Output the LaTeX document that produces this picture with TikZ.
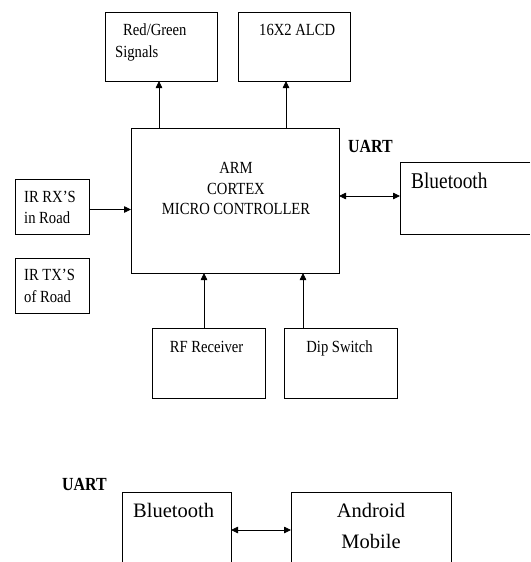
\documentclass[tikz,border=0pt]{standalone}
\usepackage{fontspec}
\setmainfont{Liberation Serif}
\usetikzlibrary{arrows.meta,calc}
\newcommand{\hsqz}[1]{\scalebox{0.86}[1]{#1}}
\begin{document}
\begin{tikzpicture}[x=1pt,y=-1pt,
  box/.style={draw, line width=0.8pt, inner sep=0pt, outer sep=0pt},
  openbox/.style={draw=none, inner sep=0pt, outer sep=0pt},
  edge/.style={line width=0.8pt},
  txt/.style={inner sep=0pt, font=\fontsize{17}{20}\selectfont},
  bigtxt/.style={inner sep=0pt, font=\fontsize{20.5}{24}\selectfont},
  boldtxt/.style={inner sep=0pt, font=\fontsize{18.5}{22}\selectfont\bfseries},
  arr/.style={line width=0.8pt, -{Triangle[length=7pt,width=6.5pt]}},
  darr/.style={line width=0.8pt, {Triangle[length=7pt,width=6.5pt]}-{Triangle[length=7pt,width=6.5pt]}}
]
\useasboundingbox (0,0) rectangle (530,562);

% boxes
\node[box, minimum width=112pt, minimum height=69pt] (rg) at (161,46.5) {};
\node[box, minimum width=112pt, minimum height=69pt] (lcd) at (294,46.5) {};
\node[box, minimum width=208pt, minimum height=145pt] (arm) at (235,200.5) {};
\node[openbox, minimum width=130pt, minimum height=72pt] (bt1) at (465,198) {};
\draw[edge] (bt1.north east) -- (bt1.north west) -- (bt1.south west) -- (bt1.south east);
\node[box, minimum width=74pt, minimum height=55pt] (irrx) at (52,206.5) {};
\node[box, minimum width=74pt, minimum height=55pt] (irtx) at (52,285.5) {};
\node[box, minimum width=113pt, minimum height=70pt] (rf) at (208.5,363) {};
\node[box, minimum width=113pt, minimum height=70pt] (dip) at (340.5,363) {};
\node[openbox, minimum width=109pt, minimum height=70pt] (bt2) at (176.5,527) {};
\draw[edge] (bt2.south west) -- (bt2.north west) -- (bt2.north east) -- (bt2.south east);
\node[openbox, minimum width=160pt, minimum height=70pt] (andr) at (371,527) {};
\draw[edge] (andr.south west) -- (andr.north west) -- (andr.north east) -- (andr.south east);

% texts
\node[txt, anchor=base west] (t-rg1) at (123,35) {\hsqz{Red/Green}};
\node[txt, anchor=base west] (t-rg2) at (115,57) {\hsqz{Signals}};
\node[txt, anchor=base west] (t-lcd) at (259,35) {\hsqz{16X2 ALCD}};
\node[txt, anchor=base] (t-arm1) at (236,173) {\hsqz{ARM}};
\node[txt, anchor=base] (t-arm2) at (236,194) {\hsqz{CORTEX}};
\node[txt, anchor=base] (t-arm3) at (236,214) {\hsqz{MICRO CONTROLLER}};
\node[boldtxt, anchor=base west] (t-uart1) at (348,152) {\hsqz{UART}};
\node[bigtxt, anchor=base west, font=\fontsize{22.5}{26}\selectfont] (t-bt1) at (411,188) {\hsqz{Bluetooth}};
\node[txt, anchor=base west] (t-rx1) at (24,202) {\hsqz{IR RX’S}};
\node[txt, anchor=base west] (t-rx2) at (24,223) {\hsqz{in Road}};
\node[txt, anchor=base west] (t-tx1) at (24,280) {\hsqz{IR TX’S}};
\node[txt, anchor=base west] (t-tx2) at (24,302) {\hsqz{of Road}};
\node[txt, anchor=base] (t-rf) at (206.5,352) {\hsqz{RF Receiver}};
\node[txt, anchor=base] (t-dip) at (339.5,352) {\hsqz{Dip Switch}};
\node[boldtxt, anchor=base west] (t-uart2) at (62,490) {\hsqz{UART}};
\node[bigtxt, anchor=base west] (t-bt2) at (133,517) {Bluetooth};
\node[bigtxt, anchor=base] (t-and1) at (371,517) {Android};
\node[bigtxt, anchor=base] (t-and2) at (371,548) {Mobile};

% connectors
\coordinate (c-rg) at ([xshift=-2pt]rg.south);
\coordinate (c-lcd) at ([xshift=-8pt]lcd.south);
\draw[arr] (c-rg |- arm.north) -- (c-rg);
\draw[arr] (c-lcd |- arm.north) -- (c-lcd);
\coordinate (c-rf) at ([xshift=-4.5pt]rf.north);
\coordinate (c-dip) at ([xshift=-37.5pt]dip.north);
\draw[arr] (c-rf) -- (c-rf |- arm.south);
\draw[arr] (c-dip) -- (c-dip |- arm.south);
\coordinate (c-rx) at ([yshift=-3pt]irrx.east);
\draw[arr] (c-rx) -- (c-rx -| arm.west);
\coordinate (c-bt1) at ([yshift=2pt]bt1.west);
\draw[darr] (c-bt1 -| arm.east) -- (c-bt1);
\coordinate (c-and) at ([yshift=-3pt]andr.west);
\draw[darr] (c-and -| bt2.east) -- (c-and);
\end{tikzpicture}
\end{document}
